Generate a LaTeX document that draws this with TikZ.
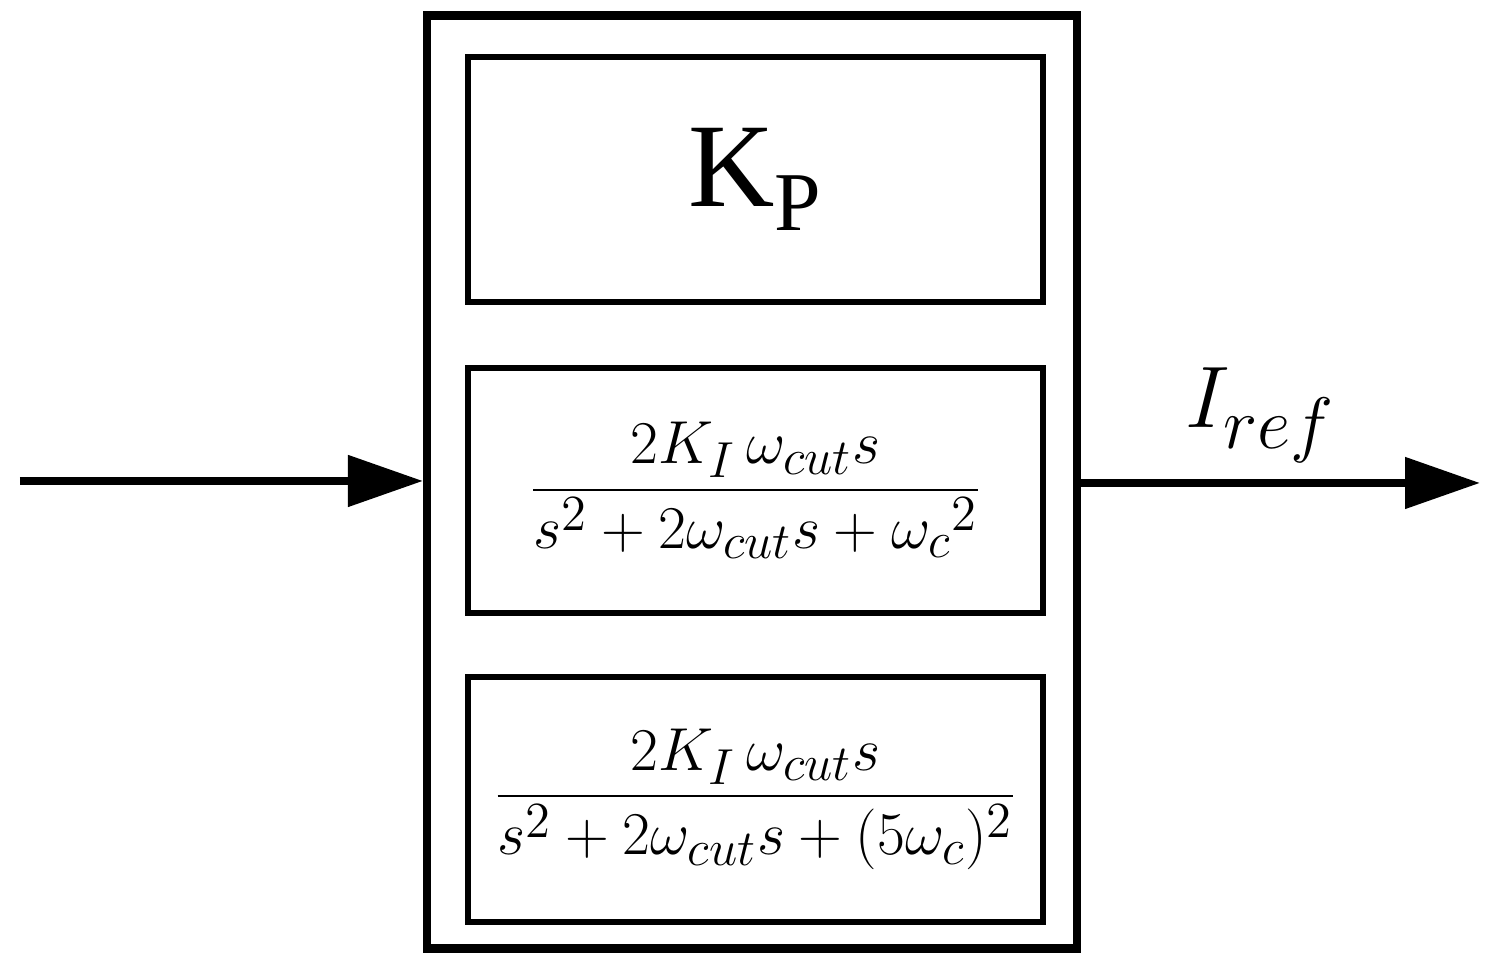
\documentclass[tikz,border=0pt]{standalone}
\usepackage{amsmath}
\usepackage{fontspec}
\setmainfont{Liberation Serif}
\usetikzlibrary{arrows.meta}

\tikzset{
	outer/.style={draw, line width=2.3pt, minimum width=6.5cm, minimum height=9.33cm},
	inner/.style={draw, line width=1.8pt, minimum width=5.75cm, minimum height=2.45cm},
	flow/.style={line width=2.3pt, -{Triangle[length=0.75cm, width=0.5cm]}}
}

\begin{document}
\begin{tikzpicture}

	\useasboundingbox (0, 0) rectangle (14.89, 9.74);

	\node[outer] (ctrl) at (7.52, 4.92) {};
	\node[inner] (kp) at (7.555, 7.945) {\fontsize{34}{40}\selectfont K\textsubscript{P}};
	\node[inner] (res1) at (7.555, 4.835) {\fontsize{19}{23}\selectfont $\dfrac{2K_I\,\omega_{cut}s}{s^2+2\omega_{cut}s+{\omega_c}^2}$};
	\node[inner] (res5) at (7.555, 1.745) {\fontsize{19}{23}\selectfont $\dfrac{2K_I\,\omega_{cut}s}{s^2+2\omega_{cut}s+(5\omega_c)^2}$};

	\coordinate (in) at (0.2, 4.93);
	\coordinate (out) at (14.8, 4.91);
	\draw[flow] (in) -- (in -| ctrl.west);
	\draw[flow] (out -| ctrl.east) -- (out) node[pos=0.45, above=0.05cm] {\fontsize{30}{36}\selectfont $I_{ref}$};

\end{tikzpicture}
\end{document}
